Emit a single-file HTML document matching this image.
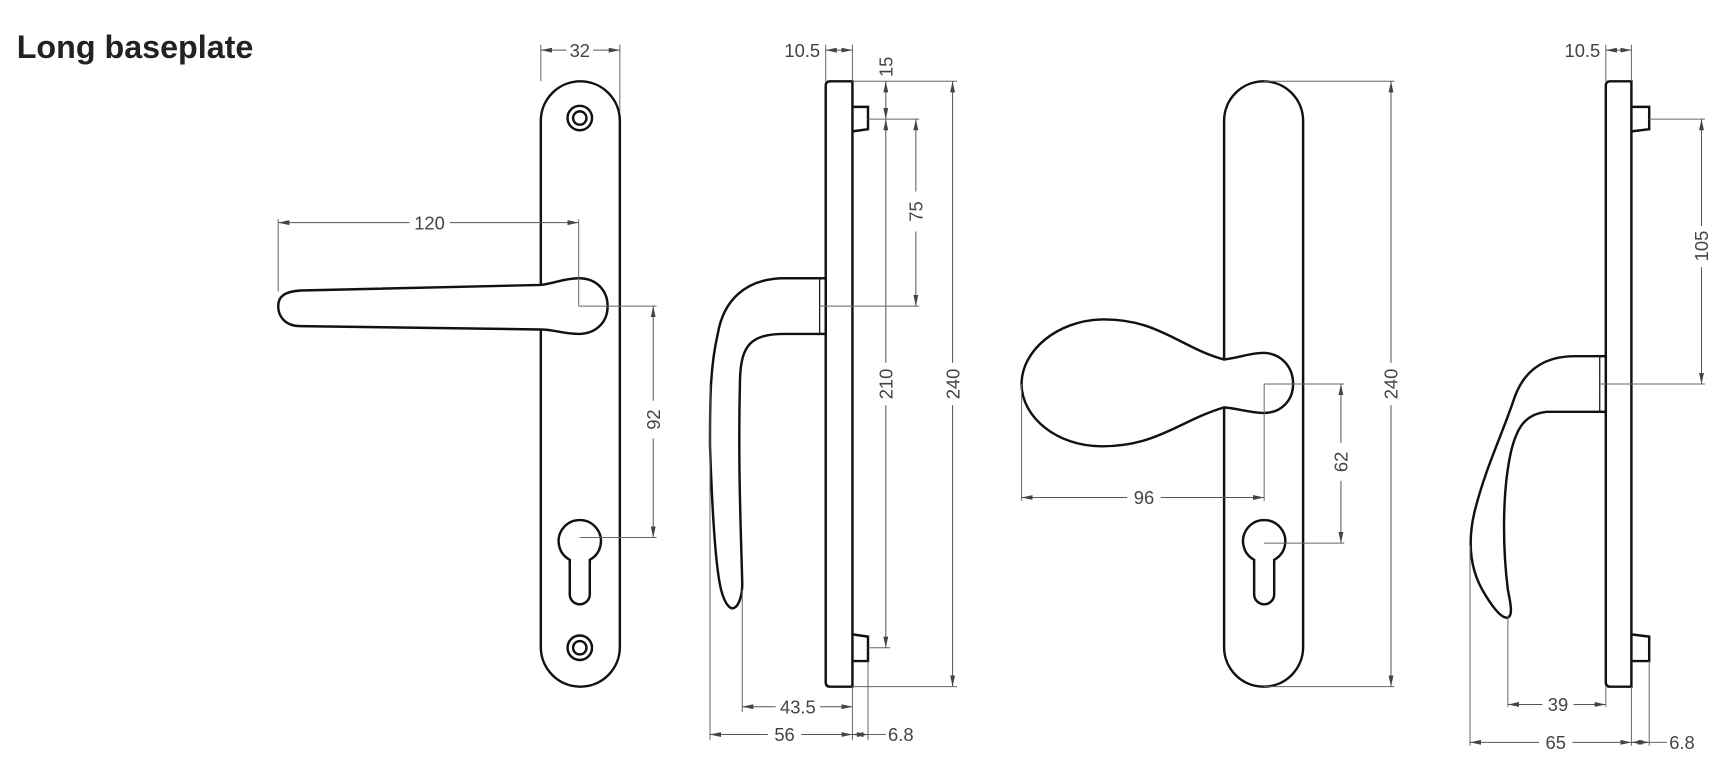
<!DOCTYPE html>
<html><head><meta charset="utf-8"><style>
html,body{margin:0;padding:0;background:#fff;}
svg{display:block;}
text{font-family:"Liberation Sans",sans-serif;}
.d{font-size:16.5px;fill:#444;}
.o{fill:#fff;stroke:#111;stroke-width:2.2;}
.n{fill:none;stroke:#111;stroke-width:2.2;}
.l{fill:none;stroke:#666;stroke-width:0.9;}
.a{fill:none;stroke:#555;stroke-width:0.9;marker-start:url(#ms);}
.b{fill:none;stroke:#555;stroke-width:0.9;marker-start:url(#ms);marker-end:url(#me);}
</style></head><body>
<svg width="1736" height="778" viewBox="0 0 1560 699" xmlns="http://www.w3.org/2000/svg">
<defs>
<marker id="ms" viewBox="0 0 10 6" refX="0" refY="3" markerWidth="10" markerHeight="6" orient="auto" markerUnits="userSpaceOnUse"><path d="M0,3 L10,0.8 L10,5.2 Z" fill="#444"/></marker>
<marker id="me" viewBox="0 0 10 6" refX="10" refY="3" markerWidth="10" markerHeight="6" orient="auto" markerUnits="userSpaceOnUse"><path d="M10,3 L0,0.8 L0,5.2 Z" fill="#444"/></marker>
</defs>
<text x="15" y="52" font-size="29" font-weight="bold" fill="#222">Long baseplate</text>

<!-- Drawing 1 -->
<rect class="o" x="486" y="73" width="71" height="544" rx="35.5"/>
<circle class="n" cx="521" cy="106" r="11"/><circle class="n" cx="521" cy="106" r="6"/>
<circle class="n" cx="521" cy="582" r="11"/><circle class="n" cx="521" cy="582" r="6"/>
<path class="n" d="M512,503 A19,19 0 1 1 530,503 L530,534 A9,9 0 0 1 512,534 Z"/>
<path class="o" d="M486,256 C500,254 508,250 520,250 C537,250 546,262 546,275 C546,290 535,300 520,300 C506,300 498,296 486,296 L270,293 C256,293 250,284 250,275 C250,266 256,262 270,261 Z"/>
<path class="l" d="M486,73 V40 M557,100 V40 M250,262 V197 M520,275 V197 M520,275 H590 M521,483 H590"/>
<path class="a" d="M486,45 H509"/><path class="a" d="M557,45 H533"/>
<text class="d" x="521" y="51" text-anchor="middle">32</text>
<path class="a" d="M250,200 H368"/><path class="a" d="M520,200 H404"/>
<text class="d" x="386" y="206" text-anchor="middle">120</text>
<path class="a" d="M587,275 V360"/><path class="a" d="M587,483 V394"/>
<text class="d" transform="translate(593,377) rotate(-90)" text-anchor="middle">92</text>

<!-- Drawing 2 -->
<path class="o" d="M746,73 H766 V617 H746 Q742,617 742,613 V77 Q742,73 746,73 Z"/>
<path class="n" d="M766,96 H780 V116 L766,118 M766,570 L780,572 V594 H766"/>
<rect class="o" x="736" y="250" width="6" height="50" stroke-width="1.4"/>
<path class="o" d="M736,250 H705 C670,250 650,270 645,300 C638,330 638,360 638,400 C640,460 643,510 648,530 C652,545 657,548 660,546 C664,544 667,535 667,525 C666,480 663,420 665,340 C666,310 675,300 705,300 H736"/>
<path class="l" d="M742,73 V40 M766,73 V40 M766,73 H860 M780,107 H826 M736,275 H826 M780,582 H800 M766,617 H860 M667,530 V640 M638,345 V665 M766,617 V665 M780,594 V665"/>
<path class="b" d="M742,45 H766"/>
<text class="d" x="737" y="51" text-anchor="end">10.5</text>
<path class="b" d="M796,73 V107"/>
<text class="d" transform="translate(802,60) rotate(-90)" text-anchor="middle">15</text>
<path class="a" d="M823,107 V172"/><path class="a" d="M823,275 V208"/>
<text class="d" transform="translate(829,190) rotate(-90)" text-anchor="middle">75</text>
<path class="a" d="M796,107 V326"/><path class="a" d="M796,582 V364"/>
<text class="d" transform="translate(802,345) rotate(-90)" text-anchor="middle">210</text>
<path class="a" d="M856,73 V326"/><path class="a" d="M856,617 V364"/>
<text class="d" transform="translate(862,345) rotate(-90)" text-anchor="middle">240</text>
<path class="a" d="M667,635 H697"/><path class="a" d="M766,635 H737"/>
<text class="d" x="717" y="641" text-anchor="middle">43.5</text>
<path class="a" d="M638,660 H690"/><path class="a" d="M766,660 H720"/>
<text class="d" x="705" y="666" text-anchor="middle">56</text>
<path class="b" d="M766,660 H780"/><path class="l" d="M780,660 H796"/>
<text class="d" x="798" y="666">6.8</text>

<!-- Drawing 3 -->
<rect class="o" x="1100" y="73" width="71" height="544" rx="35.5"/>
<path class="n" d="M1127,503 A19,19 0 1 1 1145,503 L1145,534 A9,9 0 0 1 1127,534 Z"/>
<path class="o" d="M1100,323 C1115,321 1124,317 1136,317 C1152,318 1162,330 1162,345 C1162,360 1151,371 1136,371 C1124,371 1112,367 1100,366 C1060,378 1040,401 990,401 C950,401 918,375 918,345 C918,315 950,288 990,287 C1040,286 1060,312 1100,323 Z"/>
<path class="l" d="M1136,73 H1253 M1136,617 H1253 M918,345 V450 M1136,345 V450 M1136,345 H1208 M1136,488 H1208"/>
<path class="a" d="M918,447 H1013"/><path class="a" d="M1136,447 H1043"/>
<text class="d" x="1028" y="453" text-anchor="middle">96</text>
<path class="a" d="M1205,345 V398"/><path class="a" d="M1205,488 V432"/>
<text class="d" transform="translate(1211,415) rotate(-90)" text-anchor="middle">62</text>
<path class="a" d="M1250,73 V326"/><path class="a" d="M1250,617 V364"/>
<text class="d" transform="translate(1256,345) rotate(-90)" text-anchor="middle">240</text>

<!-- Drawing 4 -->
<path class="o" d="M1447,73 H1466 V617 H1447 Q1443,617 1443,613 V77 Q1443,73 1447,73 Z"/>
<path class="n" d="M1466,96 H1482 V116 L1466,118 M1466,570 L1482,572 V594 H1466"/>
<rect class="o" x="1437" y="320" width="6" height="50" stroke-width="1.4"/>
<path class="o" d="M1437,320 H1415 C1385,320 1368,335 1360,360 C1350,390 1335,420 1325,460 C1318,490 1322,515 1335,535 C1343,548 1350,556 1355,555 C1360,553 1357,540 1355,530 C1350,490 1350,440 1358,405 C1363,385 1370,372 1390,370 H1437"/>
<path class="l" d="M1443,73 V40 M1466,73 V40 M1482,107 H1532 M1437,345 H1532 M1355,553 V635 M1321,490 V670 M1443,617 V635 M1466,617 V670 M1482,594 V670"/>
<path class="b" d="M1443,45 H1466"/>
<text class="d" x="1438" y="51" text-anchor="end">10.5</text>
<path class="a" d="M1529,107 V203"/><path class="a" d="M1529,345 V240"/>
<text class="d" transform="translate(1535,221) rotate(-90)" text-anchor="middle">105</text>
<path class="a" d="M1355,633 H1386"/><path class="a" d="M1443,633 H1414"/>
<text class="d" x="1400" y="639" text-anchor="middle">39</text>
<path class="a" d="M1321,667 H1383"/><path class="a" d="M1466,667 H1413"/>
<text class="d" x="1398" y="673" text-anchor="middle">65</text>
<path class="b" d="M1466,667 H1482"/><path class="l" d="M1482,667 H1498"/>
<text class="d" x="1500" y="673">6.8</text>
</svg>
</body></html>
